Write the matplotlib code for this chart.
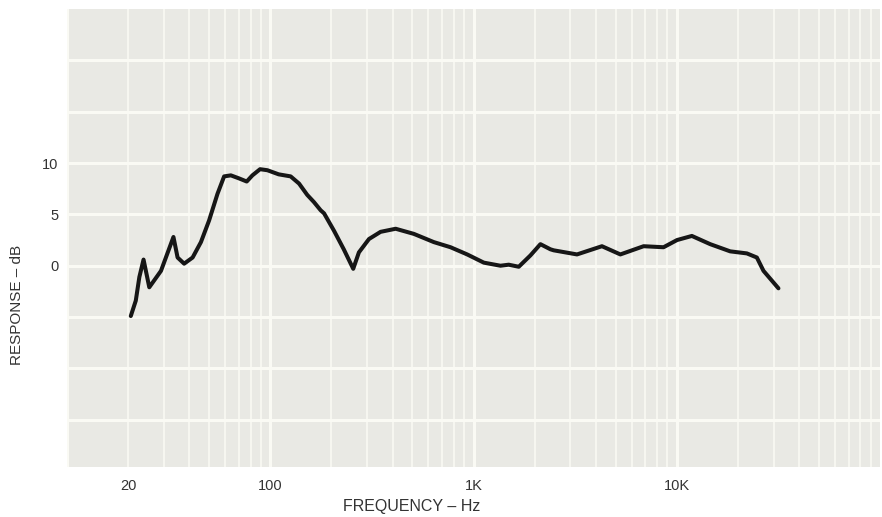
import numpy as np
import matplotlib
matplotlib.use("Agg")
import matplotlib.pyplot as plt
from matplotlib.ticker import FixedLocator, NullFormatter

# Response curve (frequency in Hz, level in dB)
freq_hz = [20.6, 21.8, 22.7, 23.8, 25.4, 29.0, 33.4, 35.0, 37.7, 41.5, 45.6, 50, 55,
           59.3, 64, 70.3, 76.6, 81.7, 89.1, 96.8, 110, 126, 138.6, 152, 164, 177,
           184, 206, 230, 256, 273, 306, 349, 414, 509, 638, 771, 931, 1124, 1357,
           1490, 1670, 1905, 2134, 2390, 2481, 3230, 4285, 5279, 6871, 8610, 10030,
           11870, 14610, 18320, 22130, 24780, 26720, 31650]
response_db = [-4.9, -3.4, -1.1, 0.6, -2.1, -0.5, 2.8, 0.8, 0.2, 0.8, 2.3, 4.4, 7.0,
               8.7, 8.8, 8.5, 8.2, 8.8, 9.4, 9.3, 8.9, 8.7, 8.0, 6.9, 6.2, 5.4,
               5.1, 3.4, 1.6, -0.3, 1.3, 2.6, 3.3, 3.6, 3.1, 2.3, 1.8, 1.1, 0.3, 0.0,
               0.1, -0.1, 1.0, 2.1, 1.6, 1.5, 1.1, 1.9, 1.1, 1.9, 1.8, 2.5,
               2.9, 2.1, 1.4, 1.2, 0.8, -0.5, -2.2]

x_ticks = [20, 100, 1000, 10000]
x_tick_labels = ["20", "100", "1K", "10K"]
y_ticks = [0, 5, 10]
y_tick_labels = ["0", "5", "10"]

plt.rcParams["font.family"] = ["Liberation Sans", "DejaVu Sans"]

fig = plt.figure(figsize=(8.82, 5.17), dpi=100)
fig.patch.set_facecolor("white")
ax = fig.add_axes([67 / 882, 50 / 517, 813 / 882, 458 / 517])
ax.set_facecolor("#e9e9e4")

ax.set_xscale("log")
ax.set_xlim(10, 100000)
ax.set_ylim(-19.6, 25)

# chart-paper grid
minor_lines = [m * 10 ** d for d in range(1, 5) for m in range(2, 10)]
for xv in minor_lines:
    ax.axvline(xv, color="#f7f7f1", lw=1.4, zorder=1)
for xv in [10, 100, 1000, 10000]:
    ax.axvline(xv, color="#fafaf4", lw=2.2, zorder=1)
for yv in range(-15, 25, 5):
    ax.axhline(yv, color="#fafaf4", lw=2.2, zorder=1)

ax.plot(freq_hz, response_db, color="#161616", lw=2.9,
        solid_joinstyle="round", solid_capstyle="round", zorder=3)

ax.xaxis.set_major_locator(FixedLocator(x_ticks))
ax.xaxis.set_minor_formatter(NullFormatter())
ax.set_xticks(x_ticks)
ax.set_xticklabels(x_tick_labels)
ax.set_xticks([], minor=True)
ax.set_yticks(y_ticks)
ax.set_yticklabels(y_tick_labels)
ax.tick_params(length=0, labelsize=10.5, colors="#333333")
ax.tick_params(axis="x", pad=9)
ax.tick_params(axis="y", pad=6)
for s in ax.spines.values():
    s.set_visible(False)

fig.text(17 / 882, 1 - 305 / 517, "RESPONSE – dB", rotation=90,
         ha="center", va="center", fontsize=11, color="#333333")
fig.text(412 / 882, 1 - 506 / 517, "FREQUENCY – Hz",
         ha="center", va="center", fontsize=11.5, color="#333333")

fig.savefig("out.png", dpi=100, facecolor="white")
